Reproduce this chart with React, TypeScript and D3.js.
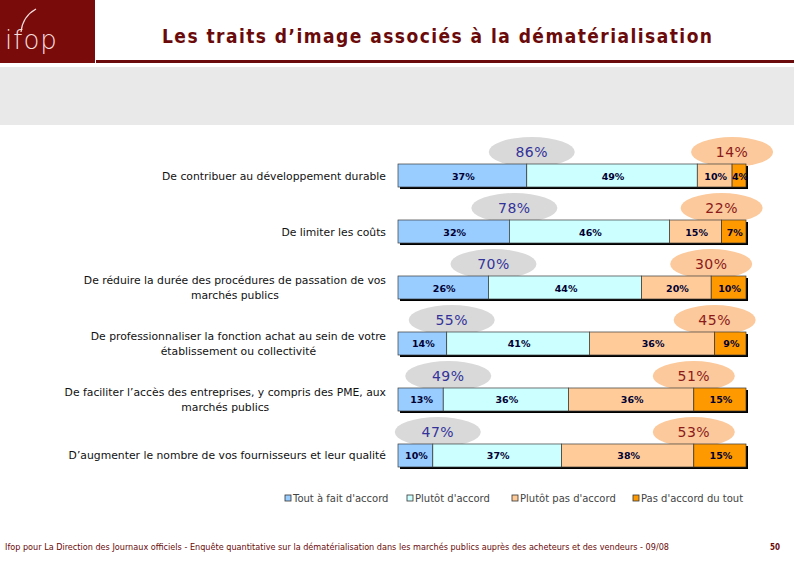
import { useEffect, useRef } from "react";
import * as d3 from "d3";

// Libellés des items (une ou deux lignes)
const categories: string[][] = [
  ["De contribuer au développement durable"],
  ["De limiter les coûts"],
  ["De réduire la durée des procédures de passation de vos", "marchés publics"],
  ["De professionnaliser la fonction achat au sein de votre", "établissement ou collectivité"],
  ["De faciliter l’accès des entreprises, y compris des PME, aux", "marchés publics"],
  ["D’augmenter le nombre de vos fournisseurs et leur qualité"],
];

const seriesNames = ["Tout à fait d'accord", "Plutôt d'accord", "Plutôt pas d'accord", "Pas d'accord du tout"];
const seriesColors = ["#99ccff", "#ccffff", "#ffcc99", "#ff9900"];

const toutAFait = [37, 32, 26, 14, 13, 10];
const plutot = [49, 46, 44, 41, 36, 37];
const plutotPas = [10, 15, 20, 36, 36, 38];
const pasDuTout = [4, 7, 10, 9, 15, 15];

const totalAccord = [86, 78, 70, 55, 49, 47];
const totalPasAccord = [14, 22, 30, 45, 51, 53];

const legendX = [285, 407, 512, 633];

const title = "Les traits d’image associés à la dématérialisation";
const footer =
  "Ifop pour La Direction des Journaux officiels - Enquête quantitative sur la dématérialisation dans les marchés publics auprès des acheteurs et des vendeurs - 09/08";

const W = 794;
const H = 567;

export default function App() {
  const svgRef = useRef<SVGSVGElement>(null);

  useEffect(() => {
    if (!svgRef.current) return;
    const svg = d3.select(svgRef.current);
    svg.selectAll("*").remove();

    const rows = categories.map((c, i) => ({
      label: c,
      values: [toutAFait[i], plutot[i], plutotPas[i], pasDuTout[i]],
      agree: totalAccord[i],
      disagree: totalPasAccord[i],
    }));

    const x = d3.scaleLinear().domain([0, 100]).range([398, 746]);
    const y = d3.scaleBand<number>()
      .domain(d3.range(rows.length))
      .range([164, 467])
      .paddingInner(0.589);
    const bh = y.bandwidth();

    // header
    svg.append("rect").attr("width", W).attr("height", H).attr("fill", "#fff");
    svg.append("rect").attr("x", 0).attr("y", 0).attr("width", 95).attr("height", 63).attr("fill", "#7a0b0b");
    svg.append("text")
      .attr("x", 5).attr("y", 49)
      .style("font-family", "'DejaVu Sans'")
      .style("font-weight", 200)
      .style("font-size", "26px")
      .style("letter-spacing", "1px")
      .attr("fill", "#f3dede")
      .text("ifop");
    svg.append("path")
      .attr("d", "M21,32 C22,22 27,14 36,9")
      .attr("fill", "none").attr("stroke", "#f3dede").attr("stroke-width", 1.2);
    svg.append("rect").attr("x", 96).attr("y", 60).attr("width", W - 96).attr("height", 3).attr("fill", "#6b0a0a");
    svg.append("rect").attr("x", 0).attr("y", 67).attr("width", W).attr("height", 58).attr("fill", "#e9e9e9");
    svg.append("text")
      .attr("x", 162).attr("y", 43)
      .attr("textLength", 550).attr("lengthAdjust", "spacing")
      .style("font-family", "'DejaVu Sans Condensed', 'DejaVu Sans'")
      .style("font-weight", "bold")
      .style("font-size", "19px")
      .attr("fill", "#6b0a0a")
      .text(title);

    const g = svg.append("g");

    // ellipses of totals (drawn before bars)
    rows.forEach((r, i) => {
      const top = y(i)!;
      const gx = x(r.values[0]) + 5;
      const ox = x(100 - r.values[3]);
      g.append("ellipse").attr("cx", gx).attr("cy", top - 12).attr("rx", 43).attr("ry", 15).attr("fill", "#d9d9d9");
      g.append("ellipse").attr("cx", ox).attr("cy", top - 12).attr("rx", 41).attr("ry", 15).attr("fill", "#fbc99b");
      g.append("text")
        .attr("x", gx).attr("y", top - 7)
        .attr("text-anchor", "middle")
        .style("font-family", "'DejaVu Sans'")
        .style("font-size", "14px")
        .style("letter-spacing", "0.5px")
        .attr("fill", "#333399")
        .text(`${r.agree}%`);
      g.append("text")
        .attr("x", ox).attr("y", top - 7)
        .attr("text-anchor", "middle")
        .style("font-family", "'DejaVu Sans'")
        .style("font-size", "14px")
        .style("letter-spacing", "0.5px")
        .attr("fill", "#8b1a1a")
        .text(`${r.disagree}%`);
    });

    // bars
    rows.forEach((r, i) => {
      const top = y(i)!;
      const row = g.append("g");
      row.append("rect")
        .attr("x", x(0) + 2).attr("y", top + 2)
        .attr("width", x(100) - x(0)).attr("height", bh)
        .attr("fill", "#000");
      let acc = 0;
      r.values.forEach((v, k) => {
        const x0 = x(acc);
        const x1 = x(acc + v);
        acc += v;
        row.append("rect")
          .attr("x", x0).attr("y", top)
          .attr("width", x1 - x0).attr("height", bh)
          .attr("fill", seriesColors[k])
          .attr("stroke", "#3a3a3a").attr("stroke-width", 0.7);
        row.append("text")
          .attr("x", (x0 + x1) / 2 + 1).attr("y", top + bh / 2 + 4)
          .attr("text-anchor", "middle")
          .style("font-family", "'DejaVu Sans'")
          .style("font-weight", "bold")
          .style("font-size", "9.5px")
          .attr("fill", "#000033")
          .text(`${v}%`);
      });

      // category label
      const lab = g.append("g");
      const lineH = 15;
      const cy = top + bh / 2 + 4;
      const n = r.label.length;
      const texts = r.label.map((l, j) =>
        lab.append("text")
          .attr("y", cy + (j - (n - 1) / 2) * lineH)
          .attr("text-anchor", "middle")
          .style("font-family", "'DejaVu Sans'")
          .style("font-size", "10.8px")
          .attr("fill", "#111")
          .text(l)
      );
      const widths = texts.map(t => (t.node() as SVGTextElement).getComputedTextLength());
      const maxW = d3.max(widths) || 0;
      texts.forEach(t => t.attr("x", 386 - maxW / 2));
    });

    // legend
    const leg = svg.append("g");
    seriesNames.forEach((s, k) => {
      leg.append("rect")
        .attr("x", legendX[k]).attr("y", 495)
        .attr("width", 6).attr("height", 6)
        .attr("fill", seriesColors[k])
        .attr("stroke", "#333").attr("stroke-width", 0.8);
      leg.append("text")
        .attr("x", legendX[k] + 8).attr("y", 502)
        .style("font-family", "'DejaVu Sans'")
        .style("font-size", "10px")
        .attr("fill", "#444")
        .text(s);
    });

    // footer
    svg.append("text")
      .attr("x", 5).attr("y", 550)
      .attr("textLength", 664).attr("lengthAdjust", "spacingAndGlyphs")
      .style("font-family", "'DejaVu Sans Condensed', 'DejaVu Sans'")
      .style("font-size", "8px")
      .attr("fill", "#6b0a0a")
      .text(footer);
    svg.append("text")
      .attr("x", 770).attr("y", 550)
      .style("font-family", "'DejaVu Sans Condensed', 'DejaVu Sans'")
      .style("font-size", "8px")
      .style("font-weight", "bold")
      .attr("fill", "#6b0a0a")
      .text("50");
  }, []);

  return (
    <div style={{ position: "absolute", left: 0, top: 0, width: W, height: H }}>
      <svg ref={svgRef} width={W} height={H} style={{ display: "block" }} />
    </div>
  );
}
